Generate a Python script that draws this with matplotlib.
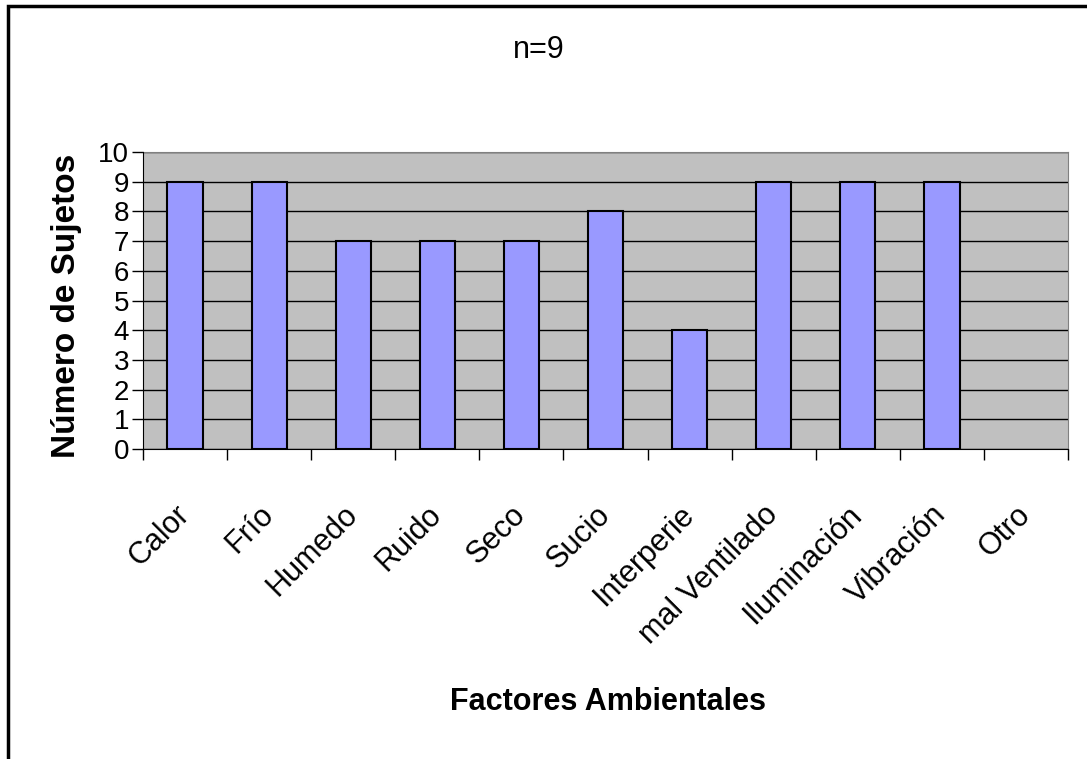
import numpy as np
import matplotlib
matplotlib.use("Agg")
import matplotlib.pyplot as plt
from matplotlib.patches import Rectangle

plt.rcParams["font.family"] = ["Liberation Sans", "DejaVu Sans"]

factores = ["Calor", "Frío", "Humedo", "Ruido", "Seco", "Sucio", "Interperie",
            "mal Ventilado", "Iluminación", "Vibración", "Otro"]
sujetos = [9, 9, 7, 7, 7, 8, 4, 9, 9, 9, 0]
yticks = list(range(0, 11))

fig = plt.figure(figsize=(10.87, 7.59), dpi=100)
ax = fig.add_axes([0.1316, 0.4084, 0.8509, 0.3913])

x = np.arange(len(factores))
ax.set_facecolor("#C0C0C0")
# empty bars get no outline (Excel draws nothing for a zero)
lw = [1.5 if v > 0 else 0 for v in sujetos]
ax.bar(x, sujetos, width=0.42, color="#9999FF", edgecolor="black", linewidth=lw, zorder=3)
ax.set_xlim(-0.5, len(factores) - 0.5)
ax.set_ylim(0, 10)
ax.set_yticks(yticks)
ax.yaxis.grid(True, color="black", linewidth=1, zorder=1)
ax.set_axisbelow(True)

# category ticks sit between bars
ax.set_xticks(np.arange(-0.5, len(factores), 1.0))
ax.set_xticklabels([])
ax.set_xticks(x, minor=True)
ax.set_xticklabels(factores, minor=True, rotation=45, ha="right", va="center",
                   rotation_mode="anchor", fontsize=22)
ax.tick_params(axis="x", which="minor", length=0, pad=44)
ax.tick_params(axis="x", which="major", length=8, width=1, direction="out")
ax.tick_params(axis="y", length=8, width=1, direction="out", labelsize=20, pad=2)

for s in ["top", "right"]:
    ax.spines[s].set_color("#808080")
for s in ["left", "bottom"]:
    ax.spines[s].set_color("black")
    ax.spines[s].set_zorder(4)

fig.text(67 / 1087, 1 - 306 / 759, "Número de Sujetos", rotation=90, ha="center",
         va="center", fontsize=24, fontweight="bold")
fig.text(608 / 1087, 1 - 702 / 759, "Factores Ambientales", ha="center", va="center",
         fontsize=22, fontweight="bold")
fig.text(539 / 1087, 1 - 50 / 759, "n=9", ha="center", va="center", fontsize=22)

# chart border
fig.patches.append(Rectangle((0.0075, -0.05), 1.1, 1.042, transform=fig.transFigure,
                             fill=False, edgecolor="black", linewidth=2.5))

fig.savefig("out.png", dpi=100)
